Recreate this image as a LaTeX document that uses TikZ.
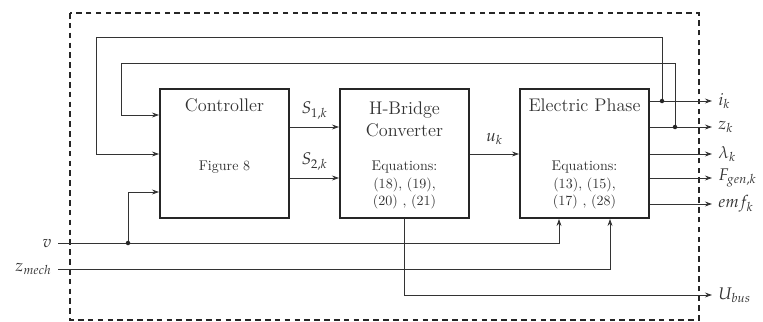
\documentclass[tikz,border=0pt]{standalone}
\usepackage{mathpazo}
\usetikzlibrary{arrows.meta}

\tikzset{
  blk/.style={draw=black!85, line width=1.3pt, minimum width=3.225cm, minimum height=3.225cm, inner sep=0pt},
  sig/.style={draw=black!80, line width=0.6pt, -{Stealth[length=5pt,width=3.5pt]}},
  dot/.style={circle, fill=black!85, inner sep=0pt, minimum size=3.2pt},
  ttl/.style={font=\fontsize{13}{15.6}\selectfont, align=center, text=black!80},
  eqn/.style={font=\fontsize{10}{12.4}\selectfont, align=center, text=black!80},
  lbl/.style={font=\fontsize{12}{14}\selectfont, text=black!80},
}

\begin{document}
\begin{tikzpicture}[x=0.025cm,y=-0.025cm]
    \useasboundingbox (0,0) rectangle (763,322);

    % Confine del sistema
    \draw[black!85, line width=1pt, dash pattern=on 4pt off 3pt] (70,13) rectangle (699,320);

    % Blocchi
    \node[blk] (ctrl) at (224.5,153.5) {};
    \node[blk] (hb) at (404.5,153.5) {};
    \node[blk] (ep) at (584.5,153.5) {};

    % Testi dei blocchi
    \node[ttl] (ctrlT) at (224.5,105) {Controller};
    \node[eqn] (ctrlF) at (224.5,167) {Figure 8};
    \node[ttl] (hbT) at (404.5,119) {H-Bridge\\Converter};
    \node[eqn] (hbE) at (404.5,185) {Equations:\\(18), (19),\\(20) , (21)};
    \node[ttl] (epT) at (584.5,105) {Electric Phase};
    \node[eqn] (epE) at (584.5,185) {Equations:\\(13), (15),\\(17) , (28)};

    % Punti di riferimento
    \coordinate (jI) at (662,101);
    \coordinate (jZ) at (675,127);
    \coordinate (jV) at (128,243);
    \coordinate (fb1) at (96,37);
    \coordinate (fb2) at (121,63);
    \coordinate (rC) at (0,115);
    \coordinate (rV) at (0,192);
    \coordinate (xV) at (559,0);
    \coordinate (xM) at (610,0);
    \coordinate (inV) at (58,243);
    \coordinate (inM) at (58,269);
    \coordinate (oI) at (712,101);
    \coordinate (oZ) at (712,127);
    \coordinate (oL) at (712,154);
    \coordinate (oF) at (712,178);
    \coordinate (oE) at (712,204);
    \coordinate (oU) at (712,295);

    % Segnali interni
    \draw[sig] (ctrl.east |- oZ) -- (hb.west |- oZ) node[lbl, midway, above=2pt] (s1) {$S_{1,k}$};
    \draw[sig] (ctrl.east |- oF) -- (hb.west |- oF) node[lbl, midway, above=2pt] (s2) {$S_{2,k}$};
    \draw[sig] (hb.east |- oL) -- (ep.west |- oL) node[lbl, midway, above=3pt] (uk) {$u_k$};

    % Uscite
    \draw[sig] (ep.east |- oI) -- (oI) node[lbl, right=1pt] (li) {$i_k$};
    \draw[sig] (ep.east |- oZ) -- (oZ) node[lbl, right=1pt] (lz) {$z_k$};
    \draw[sig] (ep.east |- oL) -- (oL) node[lbl, right=1pt] (ll) {$\lambda_k$};
    \draw[sig] (ep.east |- oF) -- (oF) node[lbl, right=1pt] (lf) {$F_{gen,k}$};
    \draw[sig] (ep.east |- oE) -- (oE) node[lbl, right=1pt] (le) {$emf_k$};
    \draw[sig] (hb.south) |- (oU) node[lbl, right=1pt] (lu) {$U_{bus}$};

    % Retroazioni
    \draw[sig] (jI) |- (fb1) |- (ctrl.west |- oL);
    \draw[sig] (jZ) |- (fb2) |- (ctrl.west |- rC);
    \node[dot] (dI) at (jI) {};
    \node[dot] (dZ) at (jZ) {};

    % Ingressi
    \node[lbl, left=1pt] (lv) at (inV) {$v$};
    \node[lbl, left=1pt] (lm) at (inM) {$z_{mech}$};
    \draw[sig] (inV) -| (ep.south -| xV);
    \draw[sig] (inM) -| (ep.south -| xM);
    \draw[sig] (jV) |- (ctrl.west |- rV);
    \node[dot] (dV) at (jV) {};

\end{tikzpicture}
\end{document}
